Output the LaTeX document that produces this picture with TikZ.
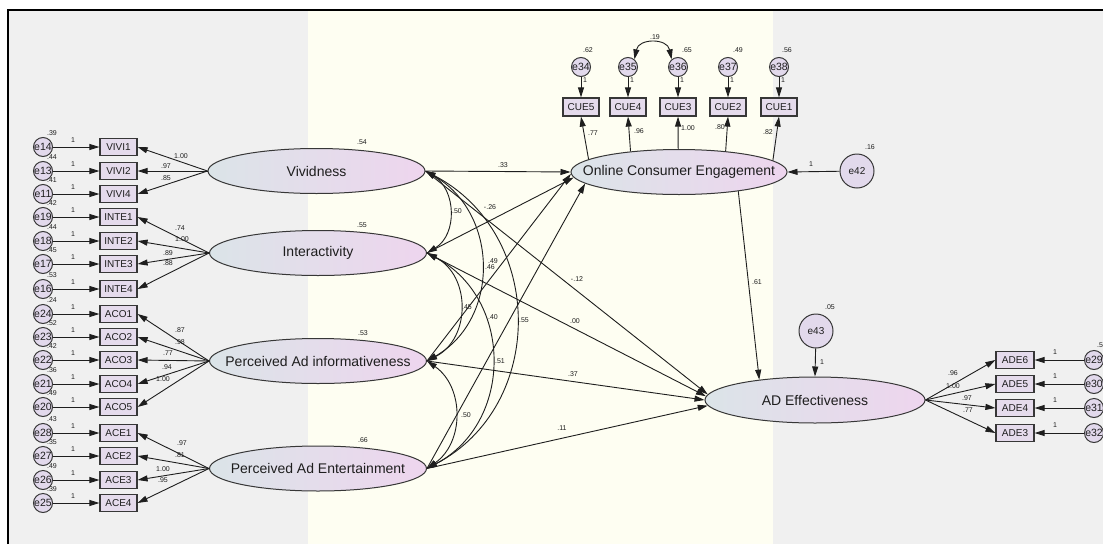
\documentclass[tikz,border=0pt]{standalone}
\usepackage{fontspec}
\setmainfont{Liberation Sans}
\usetikzlibrary{shapes.geometric,arrows.meta}

\definecolor{panelgray}{RGB}{240,240,240}
\definecolor{panelcream}{RGB}{254,254,242}
\definecolor{latleft}{RGB}{219,228,232}
\definecolor{latright}{RGB}{238,213,238}
\definecolor{boxfill}{RGB}{229,219,236}
\definecolor{errfill}{RGB}{226,217,236}
\definecolor{edge}{RGB}{55,55,55}
\definecolor{ink}{RGB}{30,30,30}

% zero-width box so a label never enlarges its shape
\newcommand\zb[1]{\makebox[0pt]{#1}}

\begin{document}
\begin{tikzpicture}[x=1pt,y=-1pt,
  latent/.style={ellipse, draw=edge, line width=1pt, minimum width=217pt,
    minimum height=45pt, inner sep=0pt, left color=latleft, right color=latright,
    font=\fontsize{14}{14}\selectfont, text=ink},
  obs/.style={rectangle, draw=edge, line width=1.2pt, fill=boxfill,
    minimum width=37pt, minimum height=17pt, inner sep=0pt,
    font=\fontsize{10}{10}\selectfont, text=ink},
  err/.style={circle, draw=edge, line width=1pt, fill=errfill,
    minimum size=19pt, inner sep=0pt, font=\fontsize{10.5}{10.5}\selectfont, text=ink},
  bigerr/.style={err, minimum size=34pt, font=\fontsize{10}{10}\selectfont},
  coef/.style={inner sep=0pt, font=\fontsize{7}{7}\selectfont, text=ink},
  regpath/.style={draw=ink, line width=0.9pt, -{Triangle[length=10pt,width=6pt]}},
  cov/.style={draw=ink, line width=0.9pt,
    {Triangle[length=10pt,width=6pt]}-{Triangle[length=10pt,width=6pt]}},
]
\useasboundingbox (0,0) rectangle (1103,544);

% background panels and frame
\fill[white] (0,0) rectangle (1103,544);
\fill[panelgray] (8,10) rectangle (308,544);
\fill[panelcream] (308,10) rectangle (773,544);
\fill[panelgray] (773,10) rectangle (1103,544);
\draw[black, line width=2pt] (8,544) -- (8,10) -- (1103,10);

% latent variables
\node[latent] (viv) at (316.5,171) {\zb{Vividness}};
\node[latent] (int) at (318,253) {\zb{Interactivity}};
\node[latent] (pai) at (318,361) {\zb{Perceived Ad informativeness}};
\node[latent] (pae) at (318,468.5) {\zb{Perceived Ad Entertainment}};
\node[latent, minimum width=216pt] (oce) at (679,172) {\zb{Online Consumer Engagement}};
\node[latent, minimum width=220pt, minimum height=46pt] (ade) at (815,400) {\zb{AD Effectiveness}};

\node[coef] (vviv) at (362,142) {.54};
\node[coef] (vint) at (362,225) {.55};
\node[coef] (vpai) at (363,333) {.53};
\node[coef] (vpae) at (363,440) {.66};

% left indicators with their error terms
\foreach \bx/\tx/\yy/\ex/\vr in {
  vivi1/VIVI1/147/e14/.39, vivi2/VIVI2/171/e13/.44, vivi4/VIVI4/194/e11/.41,
  inte1/INTE1/217/e19/.42, inte2/INTE2/241/e18/.44, inte3/INTE3/264/e17/.45,
  inte4/INTE4/289/e16/.53,
  aco1/ACO1/314/e24/.24, aco2/ACO2/337/e23/.52, aco3/ACO3/360/e22/.42,
  aco4/ACO4/384/e21/.36, aco5/ACO5/407/e20/.49,
  ace1/ACE1/433/e28/.43, ace2/ACE2/456/e27/.35, ace3/ACE3/480/e26/.49,
  ace4/ACE4/503/e25/.39} {
  \node[obs] (\bx) at (118.5,\yy) {\tx};
  \node[err] (\ex) at (43,\yy) {\zb{\ex}};
  \draw[regpath] (\ex) -- (\bx);
  \node[coef] (v\ex) at (52,\yy-14) {\vr};
  \node[coef] (o\ex) at (73,\yy-7) {1};
}

% loadings of the exogenous factors
\foreach \bx in {vivi1,vivi2,vivi4} \draw[regpath] (viv.west) -- (\bx.east);
\foreach \bx in {inte1,inte2,inte3,inte4} \draw[regpath] (int.west) -- (\bx.east);
\foreach \bx in {aco1,aco2,aco3,aco4,aco5} \draw[regpath] (pai.west) -- (\bx.east);
\foreach \bx in {ace1,ace2,ace3,ace4} \draw[regpath] (pae.west) -- (\bx.east);

\foreach \nm/\xx/\yy/\tx in {
  lv1/181/156/1.00, lv2/166/166/.97, lv4/166/178/.85,
  li1/180/228/.74, li2/182/239/1.00, li3/168/253/.89, li4/168/263/.88,
  la1/180/330/.87, la2/180/342/.98, la3/168/353/.77, la4/167/367/.94, la5/163/379/1.00,
  le1/182/443/.97, le2/180/455/.81, le3/163/469/1.00, le4/163/480/.95}
  \node[coef] (\nm) at (\xx,\yy) {\tx};

% engagement indicators
\foreach \bx/\tx/\xx/\ex/\ang in {
  cue5/CUE5/581/e34/172, cue4/CUE4/628/e35/157, cue3/CUE3/678/e36/92,
  cue2/CUE2/728/e37/24, cue1/CUE1/779/e38/7} {
  \node[obs, minimum width=36pt, minimum height=18pt] (\bx) at (\xx,107) {\tx};
  \node[err] (\ex) at (\xx,67) {\zb{\ex}};
  \draw[regpath] (\ex) -- (\bx);
  \draw[regpath] (oce.\ang) -- (\bx.south);
  \node[coef] (o\ex) at (\xx+4,80) {1};
}
\draw[cov] (e35.50) .. controls +(4.3,-21.3) and +(-4.3,-21.3) .. (e36.130);
\node[coef] (c3536) at (655,37) {.19};
\foreach \nm/\xx/\tx in {ve34/588/.62, ve36/687/.65, ve37/738/.49, ve38/787/.56}
  \node[coef] (\nm) at (\xx,50) {\tx};
\foreach \nm/\xx/\yy/\tx in {
  lc5/593/133/.77, lc4/639/131/.96, lc3/688/128/1.00, lc2/720/127/.80, lc1/768/132/.82}
  \node[coef] (\nm) at (\xx,\yy) {\tx};

% effectiveness indicators
\foreach \bx/\tx/\yy/\ex in {
  ade6/ADE6/360/e29, ade5/ADE5/384/e30, ade4/ADE4/408/e31, ade3/ADE3/433/e32} {
  \node[obs, minimum width=38pt] (\bx) at (1015,\yy) {\tx};
  \node[err] (\ex) at (1094,\yy) {\zb{\ex}};
  \draw[regpath] (\ex) -- (\bx);
  \draw[regpath] (ade.east) -- (\bx.west);
  \node[coef] (o\ex) at (1055,\yy-8) {1};
}
\node[coef, anchor=west] (ve29) at (1097,345) {.5};
\foreach \nm/\xx/\yy/\tx in {
  ld6/953/373/.96, ld5/953/386/1.00, ld4/967/398/.97, ld3/968/410/.77}
  \node[coef] (\nm) at (\xx,\yy) {\tx};

% disturbances
\node[bigerr] (e42) at (857,171) {e42};
\node[bigerr] (e43) at (816,331) {e43};
\draw[regpath] (e42) -- (oce.east);
\draw[regpath] (e43) -- (ade.north);
\node[coef] (ve42) at (870,147) {.16};
\node[coef] (oe42) at (811,164) {1};
\node[coef] (ve43) at (830,307) {.05};
\node[coef] (oe43) at (822,362) {1};

% structural paths
\draw[regpath] (viv.east) -- (oce.west);
\draw[regpath] (int.east) -- (oce.183);
\draw[regpath] (pai.east) -- (oce.181);
\draw[regpath] (pae.east) -- (oce.187);
\draw[regpath] (viv.east) -- (ade.177);
\draw[regpath] (int.east) -- (ade.178);
\draw[regpath] (pai.east) -- (ade.180);
\draw[regpath] (pae.east) -- (ade.183);
\draw[regpath] (oce.-18) -- (ade.160);

% covariances among the exogenous factors
\draw[cov] (viv.east) .. controls +(30.7,18.7) and +(30.7,-18.7) .. (int.east);
\draw[cov] (viv.east) .. controls +(73.4,42.1) and +(73.4,-42.1) .. (pai.east);
\draw[cov] (viv.east) .. controls +(119.9,62.6) and +(119.9,-62.6) .. (pae.east);
\draw[cov] (int.east) .. controls +(44,22.6) and +(44,-22.6) .. (pai.east);
\draw[cov] (int.east) .. controls +(86.6,45.5) and +(86.6,-45.5) .. (pae.east);
\draw[cov] (pai.east) .. controls +(37.4,25.9) and +(37.4,-25.9) .. (pae.east);

\foreach \nm/\xx/\yy/\tx in {
  s1/503/165/.33, s2/490/207/-.26, s3/457/211/.50, s4/493/261/.49, s5/490/267/.46,
  s6/577/279/-.12, s7/467/307/.45, s8/493/317/.40, s9/524/320/.55, s10/575/321/.00,
  s11/500/361/.51, s12/573/374/.37, s13/466/415/.50, s14/562/428/.11, s15/757/282/.61}
  \node[coef] (\nm) at (\xx,\yy) {\tx};
\end{tikzpicture}
\end{document}
